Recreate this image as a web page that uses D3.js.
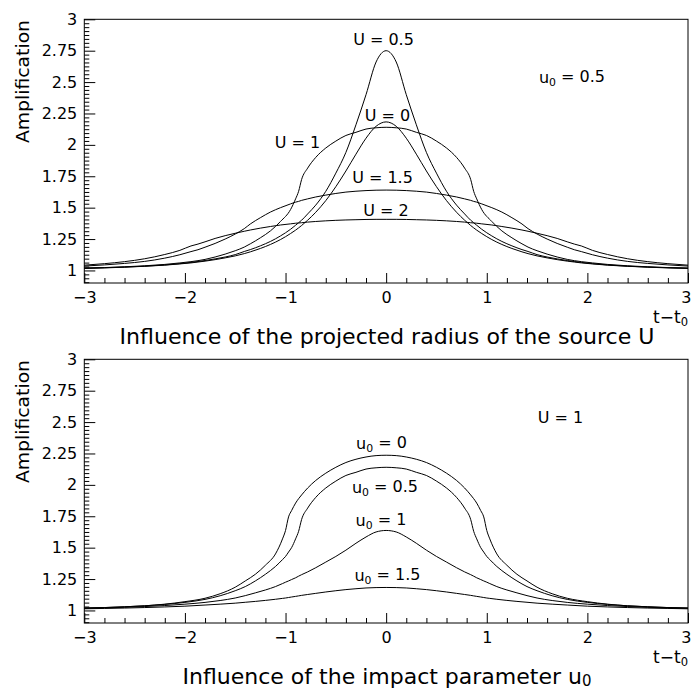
<!DOCTYPE html>
<html><head><meta charset="utf-8">
<script src="https://cdn.jsdelivr.net/npm/d3@7"></script>
<style>
body{margin:0;background:#fff}
svg{display:block}
text{font-family:"DejaVu Sans",sans-serif;fill:#000}
</style>
</head><body>
<svg id="c" width="692" height="690"></svg>
<script>
// ---------- data ----------
const tTop = [-3,-2.8,-2.6,-2.4,-2.2,-2.05,-1.94,-1.87,-1.8,-1.7,-1.6,-1.5,-1.41,-1.35,-1.25,-1.15,-1.05,-0.95,-0.9,-0.87,-0.84,-0.78,-0.7,-0.6,-0.5,-0.4,-0.3,-0.2,-0.1,
  0,0.1,0.2,0.3,0.4,0.5,0.6,0.7,0.78,0.84,0.87,0.9,0.95,1.05,1.15,1.25,1.35,1.41,1.5,1.6,1.7,1.8,1.87,1.94,2.05,2.2,2.4,2.6,2.8,3];

const ampU0 = [1.016,1.020,1.026,1.033,1.042,1.052,1.060,1.067,1.074,1.086,1.100,1.116,1.134,1.148,1.175,1.207,1.246,1.294,1.321,1.339,1.358,1.400,1.463,1.556,1.667,1.792,1.926,2.053,2.148,
  2.183,
  2.148,2.053,1.926,1.792,1.667,1.556,1.463,1.400,1.358,1.339,1.321,1.294,1.246,1.207,1.175,1.148,1.134,1.116,1.100,1.086,1.074,1.067,1.060,1.052,1.042,1.033,1.026,1.020,1.016];

const ampU05 = [1.018,1.022,1.027,1.034,1.044,1.054,1.064,1.071,1.079,1.092,1.107,1.126,1.151,1.166,1.196,1.231,1.275,1.328,1.36,1.38,1.40,1.45,1.52,1.63,1.775,1.94,2.16,2.40,2.66,
  2.75,
  2.66,2.40,2.16,1.94,1.775,1.63,1.52,1.45,1.40,1.38,1.36,1.328,1.275,1.231,1.196,1.166,1.151,1.126,1.107,1.092,1.079,1.071,1.064,1.054,1.044,1.034,1.027,1.022,1.018];

const ampU1 = [1.019,1.023,1.029,1.037,1.048,1.06,1.07,1.078,1.088,1.107,1.13,1.157,1.186,1.212,1.26,1.315,1.39,1.485,1.57,1.63,1.725,1.815,1.90,1.975,2.03,2.075,2.10,2.126,2.136,
  2.14,
  2.136,2.126,2.10,2.075,2.03,1.975,1.90,1.815,1.725,1.63,1.57,1.485,1.39,1.315,1.26,1.212,1.186,1.157,1.13,1.107,1.088,1.078,1.07,1.06,1.048,1.037,1.029,1.023,1.019];

const ampU15 = [1.035,1.044,1.056,1.072,1.098,1.125,1.15,1.165,1.185,1.215,1.25,1.29,1.333,1.37,1.42,1.465,1.50,1.53,1.544,1.55,1.558,1.57,1.585,1.60,1.613,1.624,1.631,1.636,1.639,
  1.64,
  1.639,1.636,1.631,1.624,1.613,1.60,1.585,1.57,1.558,1.55,1.544,1.53,1.50,1.465,1.42,1.37,1.333,1.29,1.25,1.215,1.185,1.165,1.15,1.125,1.098,1.072,1.056,1.044,1.035];

const ampU2 = [1.042,1.054,1.07,1.093,1.127,1.16,1.195,1.21,1.228,1.255,1.277,1.296,1.312,1.322,1.337,1.35,1.362,1.371,1.376,1.378,1.38,1.385,1.39,1.395,1.399,1.402,1.404,1.406,1.407,
  1.407,
  1.407,1.406,1.404,1.402,1.399,1.395,1.39,1.385,1.38,1.378,1.376,1.371,1.362,1.35,1.337,1.322,1.312,1.296,1.277,1.255,1.228,1.21,1.195,1.16,1.127,1.093,1.07,1.054,1.042];

const tBot = [-3,-2.8,-2.6,-2.4,-2.2,-2,-1.8,-1.65,-1.5,-1.4,-1.3,-1.2,-1.1,-1.03,-1,-0.97,-0.94,-0.9,-0.87,-0.84,-0.78,-0.7,-0.6,-0.5,-0.4,-0.3,-0.2,-0.1,
  0,0.1,0.2,0.3,0.4,0.5,0.6,0.7,0.78,0.84,0.87,0.9,0.94,0.97,1,1.03,1.1,1.2,1.3,1.4,1.5,1.65,1.8,2,2.2,2.4,2.6,2.8,3];

const ampB0 = [1.019,1.023,1.029,1.037,1.05,1.07,1.097,1.133,1.185,1.235,1.288,1.36,1.45,1.57,1.637,1.745,1.795,1.855,1.89,1.92,1.975,2.035,2.093,2.14,2.178,2.204,2.222,2.233,
  2.236,
  2.233,2.222,2.204,2.178,2.14,2.093,2.035,1.975,1.92,1.89,1.855,1.795,1.745,1.637,1.57,1.45,1.36,1.288,1.235,1.185,1.133,1.097,1.07,1.05,1.037,1.029,1.023,1.019];

const ampB05 = [1.019,1.023,1.029,1.037,1.048,1.064,1.088,1.117,1.157,1.19,1.235,1.288,1.35,1.405,1.43,1.465,1.50,1.57,1.63,1.725,1.815,1.90,1.975,2.03,2.075,2.10,2.126,2.136,
  2.14,
  2.136,2.126,2.10,2.075,2.03,1.975,1.90,1.815,1.725,1.63,1.57,1.50,1.465,1.43,1.405,1.35,1.288,1.235,1.19,1.157,1.117,1.088,1.064,1.048,1.037,1.029,1.023,1.019];

const ampB1 = [1.017,1.02,1.025,1.031,1.039,1.05,1.064,1.079,1.099,1.118,1.14,1.163,1.19,1.214,1.225,1.235,1.246,1.26,1.273,1.285,1.307,1.34,1.385,1.43,1.48,1.535,1.585,1.625,
  1.637,
  1.625,1.585,1.535,1.48,1.43,1.385,1.34,1.307,1.285,1.273,1.26,1.246,1.235,1.225,1.214,1.19,1.163,1.14,1.118,1.099,1.079,1.064,1.05,1.039,1.031,1.025,1.02,1.017];

const ampB15 = [1.013,1.016,1.019,1.023,1.028,1.034,1.043,1.05,1.058,1.065,1.072,1.08,1.089,1.096,1.099,1.103,1.107,1.112,1.116,1.12,1.127,1.136,1.147,1.157,1.166,1.173,1.179,1.182,
  1.183,
  1.182,1.179,1.173,1.166,1.157,1.147,1.136,1.127,1.12,1.116,1.112,1.107,1.103,1.099,1.096,1.089,1.08,1.072,1.065,1.058,1.05,1.043,1.034,1.028,1.023,1.019,1.016,1.013];

const xTicks = [-3,-2,-1,0,1,2,3];
const xTickLabels = ["\u22123","\u22122","\u22121","0","1","2","3"];
const yTicks = [1,1.25,1.5,1.75,2,2.25,2.5,2.75,3];
const yTickLabels = ["1","1.25","1.5","1.75","2","2.25","2.5","2.75","3"];

// ---------- drawing ----------
const svg = d3.select("#c");
const X0 = 84.3, X1 = 688, TOP = 19.3, BOT = 283;

function sub(sel, base, subTxt, rest, shift){
  const s = shift || "0.28em";
  sel.append("tspan").text(base);
  sel.append("tspan").attr("font-size", "0.68em").attr("dy", s).text(subTxt);
  if (rest) sel.append("tspan").attr("dy", "-" + s).text(rest);
}

function panel(off, t, series, notes, titleParts, titleLen){
  const g = svg.append("g");
  const x = d3.scaleLinear().domain([-3,3]).range([X0, X1]);
  const y = d3.scaleLinear().domain([0.9,3]).range([off+BOT, off+TOP]);

  // minor ticks
  const xMinor = d3.range(-3, 3.0001, 0.2).filter(v => Math.abs(v - Math.round(v)) > 1e-6);
  g.append("g").attr("transform", `translate(0,${off+BOT})`)
    .call(d3.axisBottom(x).tickValues(xMinor).tickSizeInner(-5).tickSizeOuter(0).tickFormat(""))
    .call(s => s.select(".domain").remove());
  const yMinor = d3.range(0.90625, 3.0001, 0.03125).filter(v => Math.abs(v*4 - Math.round(v*4)) > 1e-6);
  g.append("g").attr("transform", `translate(${X0},0)`)
    .call(d3.axisLeft(y).tickValues(yMinor).tickSizeInner(-5).tickSizeOuter(0).tickFormat(""))
    .call(s => s.select(".domain").remove());

  // major ticks + labels
  const ax = g.append("g").attr("transform", `translate(0,${off+BOT})`)
    .call(d3.axisBottom(x).tickValues(xTicks).tickSizeInner(-10).tickSizeOuter(0).tickPadding(9)
      .tickFormat((d,i) => xTickLabels[i]));
  ax.select(".domain").remove();
  ax.selectAll("text").attr("font-size", 16).attr("font-family", "DejaVu Sans, sans-serif");
  // the last label sits at the right edge of the canvas: keep it inside
  ax.selectAll(".tick").filter(d => d === 3).select("text").attr("text-anchor", "end").attr("x", 3);
  const ay = g.append("g").attr("transform", `translate(${X0},0)`)
    .call(d3.axisLeft(y).tickValues(yTicks).tickSizeInner(-11).tickSizeOuter(0).tickPadding(7)
      .tickFormat((d,i) => yTickLabels[i]));
  ay.select(".domain").remove();
  ay.selectAll("text").attr("font-size", 16).attr("font-family", "DejaVu Sans, sans-serif");
  g.selectAll(".tick line").attr("stroke", "#000").attr("stroke-width", 1);

  // frame
  g.append("rect").attr("x", X0).attr("y", off+TOP).attr("width", X1-X0).attr("height", BOT-TOP)
    .attr("fill", "none").attr("stroke", "#000").attr("stroke-width", 1);

  // curves
  const line = d3.line().x((d,i) => x(t[i])).y(d => y(d)).curve(d3.curveMonotoneX);
  series.forEach(s => {
    g.append("path").attr("d", line(s)).attr("fill", "none")
      .attr("stroke", "#000").attr("stroke-width", 1);
  });

  // annotations
  notes.forEach(n => {
    const tx = g.append("text").attr("x", n.x).attr("y", off + n.y).attr("text-anchor", "middle")
      .attr("font-size", 16);
    if (n.sub) sub(tx, n.a, n.sub, n.b); else tx.text(n.a);
  });

  // y title
  g.append("text").attr("transform", `translate(29,${off+20}) rotate(-90)`)
    .attr("text-anchor", "end").attr("font-size", 18)
    .attr("textLength", 123).attr("lengthAdjust", "spacingAndGlyphs").text("Amplification");

  // x title t - t0
  const xt = g.append("text").attr("x", 688).attr("y", off+323).attr("text-anchor", "end").attr("font-size", 17);
  sub(xt, "t\u2212t", "0", "");

  // panel caption
  const cap = g.append("text").attr("x", 387).attr("y", off+344).attr("text-anchor", "middle")
    .attr("font-size", titleParts.length === 1 ? 21 : 22);
  if (titleParts.length === 1) cap.attr("textLength", titleLen).attr("lengthAdjust", "spacingAndGlyphs").text(titleParts[0]);
  else sub(cap, titleParts[0], titleParts[1], "", "0.12em");
}

panel(0, tTop, [ampU0, ampU05, ampU1, ampU15, ampU2], [
  {x:383.5, y:45, a:"U = 0.5"},
  {x:572, y:83, a:"u", sub:"0", b:" = 0.5"},
  {x:387.5, y:121, a:"U = 0"},
  {x:297.5, y:148, a:"U = 1"},
  {x:382.5, y:183, a:"U = 1.5"},
  {x:386, y:216, a:"U = 2"}
], ["Influence of the projected radius of the source U"], 535);

panel(340, tBot, [ampB0, ampB05, ampB1, ampB15], [
  {x:560.5, y:83, a:"U = 1"},
  {x:381.5, y:109, a:"u", sub:"0", b:" = 0"},
  {x:385, y:153, a:"u", sub:"0", b:" = 0.5"},
  {x:381, y:186, a:"u", sub:"0", b:" = 1"},
  {x:387.5, y:241, a:"u", sub:"0", b:" = 1.5"}
], ["Influence of the impact parameter u", "0"], 406);
</script>
</body></html>
